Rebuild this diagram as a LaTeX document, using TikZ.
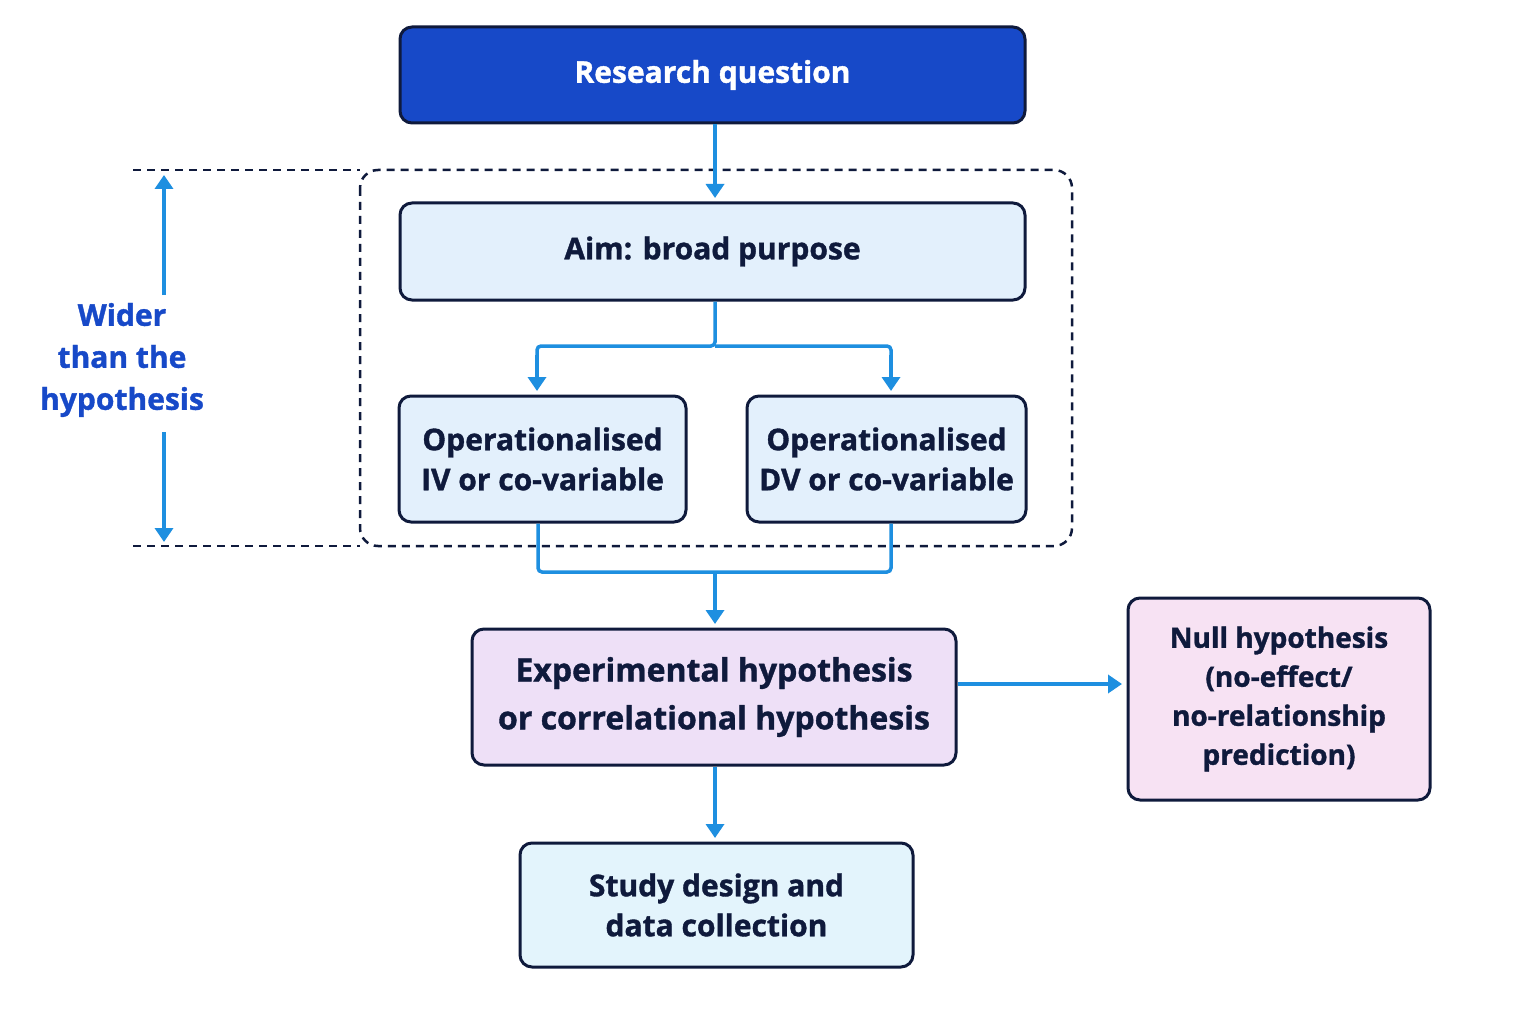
\documentclass[tikz,border=0pt]{standalone}
\usepackage{fontspec}
\setmainfont{Open Sans}[FakeBold=1.2]
\usetikzlibrary{arrows.meta}
\definecolor{dblue}{HTML}{1749C8}
\definecolor{ablue}{HTML}{1E8FE0}
\definecolor{edge}{HTML}{0F1A3C}
\tikzset{
 box/.style={draw=edge,line width=3pt,rounded corners=12pt,align=center,font=\fontsize{30}{40}\selectfont\bfseries,text=edge},
 arr/.style={draw=ablue,line width=3.5pt,-{Triangle[length=14pt,width=18pt]}},
 ln/.style={draw=ablue,line width=3.5pt,rounded corners=4pt},
 dsh/.style={draw=edge,line width=2.5pt,dash pattern=on 8pt off 6pt}
}
\begin{document}
\begin{tikzpicture}[x=1pt,y=-1pt]
\useasboundingbox (0,0) rectangle (1536,1024);
\fill[white] (0,0) rectangle (1536,1024);
\draw[dsh,rounded corners=18pt] (360,170) rectangle (1072,546);
\draw[dsh] (133,170) -- (360,170);
\draw[dsh] (133,546) -- (360,546);
\node[box,fill=dblue,text=white,minimum width=625pt,minimum height=96pt] (rq) at (712.5,75) {Research question};
\node[box,fill={rgb,255:red,227;green,240;blue,252},minimum width=625pt,minimum height=97pt] (aim) at (712.5,251.5) {Aim: broad purpose};
\node[box,fill={rgb,255:red,227;green,240;blue,252},minimum width=287pt,minimum height=126pt] (iv) at (542.5,459) {Operationalised\\IV or co-variable};
\node[box,fill={rgb,255:red,227;green,240;blue,252},minimum width=279pt,minimum height=126pt] (dv) at (886.5,459) {Operationalised\\DV or co-variable};
\node[box,fill={rgb,255:red,238;green,224;blue,247},minimum width=484pt,minimum height=136pt,font=\fontsize{32}{48}\selectfont\bfseries] (exp) at (714,697) {Experimental hypothesis\\or correlational hypothesis};
\node[box,fill={rgb,255:red,247;green,226;blue,243},minimum width=302pt,minimum height=202pt,font=\fontsize{28}{39}\selectfont\bfseries] (null) at (1279,699) {Null hypothesis\\(no-effect/\\no-relationship\\prediction)};
\node[box,fill={rgb,255:red,227;green,244;blue,252},minimum width=393pt,minimum height=124pt] (sd) at (716.5,905) {Study design and\\data collection};
\node[text=dblue,align=center,font=\fontsize{30}{42}\selectfont\bfseries] (wt) at (122,360) {Wider\\than the\\hypothesis};
\coordinate (up) at (164,175); \coordinate (dn) at (164,542);
\draw[arr] (164,295) -- (up);
\draw[arr] (164,432) -- (dn);
\coordinate (a1) at (715,198);
\draw[arr] (a1 |- rq.south) -- (a1);
\draw[ln] (aim.south -| a1) -- (715,346) -- (537,346) -- (537,360);
\draw[arr] (537,355) -- (537,391);
\draw[ln] (715,346) -- (891,346) -- (891,360);
\draw[arr] (891,355) -- (891,391);
\draw[ln] (iv.south -| 538,0) -- (538,572) -- (891,572) -- (dv.south -| 891,0);
\coordinate (a2) at (715,624);
\draw[arr] (715,572) -- (a2);
\draw[arr] (exp.east |- 0,684) -- (1122,684);
\coordinate (a3) at (715,838);
\draw[arr] (a3 |- exp.south) -- (a3);
\end{tikzpicture}
\end{document}
